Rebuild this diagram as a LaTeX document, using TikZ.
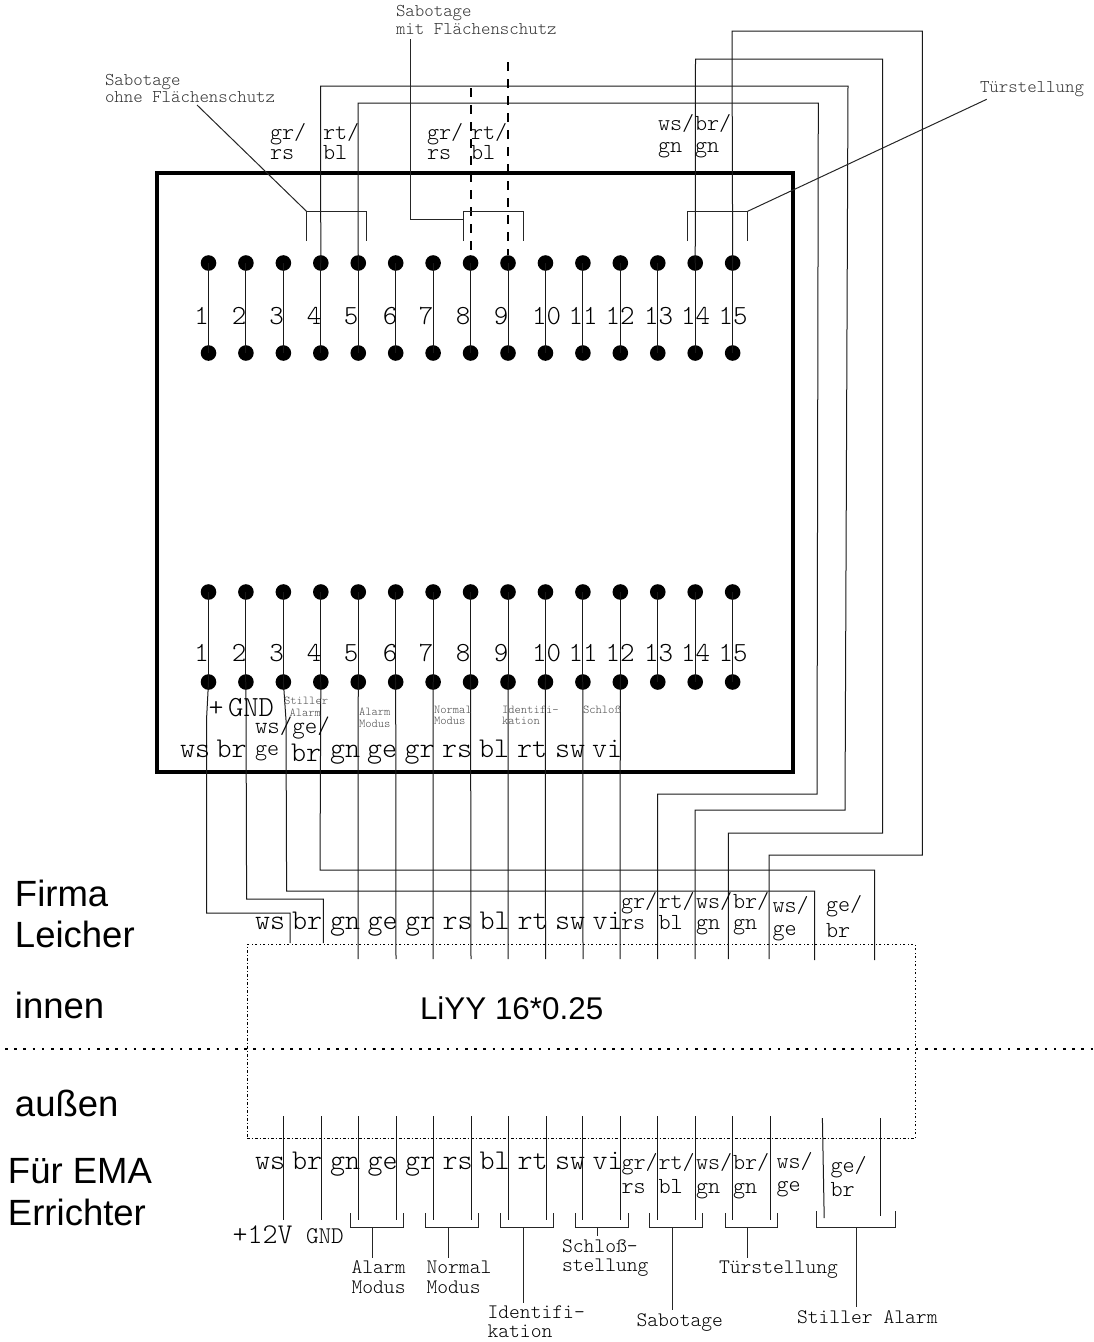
\documentclass[tikz,border=0pt]{standalone}
\usepackage{fontspec}
\setsansfont{Liberation Sans}
\setmonofont{Latin Modern Mono Light}
\begin{document}
\begin{tikzpicture}[x=1pt,y=-1pt,
  wire/.style={line width=1pt,black!90},
  thinwire/.style={line width=1pt,black!85},
  dot/.style={circle,fill=black,inner sep=0pt,minimum size=15.6pt},
  txt/.style={anchor=base west,inner sep=0pt,outer sep=0pt,black},
  txc/.style={anchor=base,inner sep=0pt,outer sep=0pt,black},
  fnum/.style={font=\fontsize{27.6}{28}\selectfont\ttfamily},
  frow/.style={font=\fontsize{28.6}{29}\selectfont\ttfamily},
  fmid/.style={font=\fontsize{23}{23}\selectfont\ttfamily},
  fsub/.style={font=\fontsize{20.6}{21}\selectfont\ttfamily},
  ftop/.style={font=\fontsize{18}{18}\selectfont\ttfamily,black!80},
  ftiny/.style={font=\fontsize{12}{12}\selectfont\ttfamily,black!70},
  fsans/.style={font=\fontsize{36.5}{37}\selectfont\sffamily},
  enclosurebox/.style={draw=black,line width=4.8pt,minimum width=636pt,minimum height=599pt,inner sep=0pt},
  cablebox/.style={draw=black,line width=0.8pt,dash pattern=on 2.5pt off 2pt on 1pt off 2.5pt,minimum width=668pt,minimum height=194pt,inner sep=0pt}]
\useasboundingbox (0,0) rectangle (1093,1342);

% enclosure and cable
\node[enclosurebox] (enclosure) at (475,472.5) {};
\node[cablebox] (cable) at (581,1041) {};
\coordinate (divL) at (5,1049);
\coordinate (divR) at (1093,1049);
\draw[line width=1.5pt,dash pattern=on 2.5pt off 6.7pt] (divL) -- (divR);

% terminals
\foreach \i in {1,...,15}{
  \pgfmathsetmacro{\xx}{208.5+37.44*(\i-1)}
  \node[dot] (t\i) at (\xx,263) {};
  \node[dot] (m\i) at (\xx,353) {};
  \node[dot] (b\i) at (\xx,592) {};
  \node[dot] (c\i) at (\xx,682) {};
  \draw[wire] (t\i.center) -- (m\i.center);
  \draw[wire] (b\i.center) -- (c\i.center);
}

% terminal numbers
\foreach \n/\x in {1/201.5,2/239,3/276.7,4/314,5/351,6/390,7/426,8/463,9/501,10/546.7,11/583,12/620,13/658.5,14/695.5,15/733}{
  \node[txc,fnum] (nt\n) at (\x,324) {\n};
  \node[txc,fnum] (nb\n) at (\x,661) {\n};
}

% wires from lower terminals to cable
\coordinate (e1) at (290,943);
\coordinate (e2) at (323.4,943);
\coordinate (e3) at (814.5,960);
\coordinate (e4) at (874.6,960);
\draw[wire] (c1.center) -- (206.5,720) -- (206.5,913) -- (290,913) -- (e1);
\draw[wire] (c2.center) -- (246.6,899) -- (323.4,899) -- (e2);
\draw[wire] (c3.center) -- (286,720) -- (286.6,891) -- (814.5,891) -- (e3);
\draw[wire] (c4.center) -- (320,870) -- (874.6,870) -- (e4);
\foreach \i/\x in {5/358,6/396,7/433,8/471,9/508,10/545.5,11/583,12/620}{
  \coordinate (e\i) at (\x,959);
  \draw[wire] (c\i.center) -- (e\i);
}

% wires from upper terminals round the enclosure
\coordinate (eA) at (657.6,959);
\coordinate (eB) at (695,959);
\coordinate (eC) at (728.4,959);
\coordinate (eD) at (769,959);
\draw[wire] (t4.center) -- (320.5,86) -- (848,86) -- (845,810) -- (695,810) -- (eB);
\draw[wire] (t5.center) -- (358,103) -- (818.3,103) -- (817,794) -- (657.6,794) -- (eA);
\draw[wire] (t14.center) -- (695.5,59) -- (882.7,59) -- (882.7,833) -- (728.4,833) -- (eC);
\draw[wire] (t15.center) -- (732,31) -- (922.3,31) -- (922.3,855) -- (769,855) -- (eD);

% dashed bridges
\coordinate (d8) at (470.7,88);
\coordinate (d9) at (508,62);
\draw[line width=2pt,dash pattern=on 9pt off 8pt] (d8) -- (t8.north -| d8);
\draw[line width=2pt,dash pattern=on 9pt off 8pt] (d9) -- (t9.north -| d9);

% upper brackets and leaders
\node[txt,ftop] (labA1) at (105,85) {Sabotage};
\node[txt,ftop] (labA2) at (105,102) {ohne Flächenschutz};
\node[txt,ftop] (labB1) at (396,16) {Sabotage};
\node[txt,ftop] (labB2) at (396,34) {mit Flächenschutz};
\node[txt,ftop] (labC) at (980,92) {Türstellung};
\draw[thinwire] (306.5,241) -- (306.5,211.3) coordinate (brA) -- (366.4,211.3) -- (366.4,241);
\draw[thinwire] (463.5,241) -- (463.5,211.3) -- (523.4,211.3) -- (523.4,241);
\draw[thinwire] (687.7,241) -- (687.7,211.3) -- (747.6,211.3) coordinate (brC) -- (747.6,241);
\coordinate (leadA) at (197,105);
\coordinate (leadB) at (410.8,39);
\coordinate (leadC) at (986.7,99.3);
\draw[thinwire] (leadA) -- (brA);
\draw[thinwire] (leadB) -- (410.8,219) -- (463.5,219);
\draw[thinwire] (brC) -- (leadC);

% colour labels above the terminals
\foreach \n/\x/\y/\t in {a/270/139/gr\slash,b/270/159/rs,c/323/139/rt\slash,d/323/159/bl,
  e/427/139/gr\slash,f/427/159/rs,g/471/139/rt\slash,h/471/159/bl,
  i/658/130/ws\slash,j/658/152/gn,k/695/130/br\slash,l/695/152/gn}{
  \node[txt,fmid] (tc\n) at (\x,\y) {\t};
}

% labels inside the enclosure, bottom
\foreach \n/\x/\y/\t in {1/180/757/ws,2/216.5/757/br,4/291/761/br,5/330/757/gn,6/367/757/ge,7/404.5/757/gr,8/442/757/rs,9/479/757/bl,10/517/757/rt,11/555/757/sw,12/592/757/vi}{
  \node[txt,frow] (ib\n) at (\x,\y) {\t};
}
\node[txt,fmid] (ibge) at (255,755) {ge};
\node[txt,font=\fontsize{23.8}{24}\selectfont\ttfamily] (ibcomb) at (255,733) {ws\slash ge\slash};
\node[txt,frow] (plus) at (208.5,716) {+};
\node[txt,font=\fontsize{29.2}{30}\selectfont\ttfamily] (ignd) at (228,716) {GND};
\node[txt,ftiny] (s1) at (284,704) {Stiller};
\node[txt,ftiny] (s2) at (289.5,716) {Alarm};
\node[txt,ftiny] (s3) at (359,715) {Alarm};
\node[txt,ftiny] (s4) at (359,727) {Modus};
\node[txt,ftiny] (s5) at (434,713) {Normal};
\node[txt,ftiny] (s6) at (434,724) {Modus};
\node[txt,ftiny] (s7) at (502,713) {Identifi-};
\node[txt,ftiny] (s8) at (502,724) {kation};
\node[txt,ftiny] (s9) at (583,713) {Schloß};

% labels above the cable
\foreach \n/\x/\t in {1/255/ws,2/292/br,3/330/gn,4/367.5/ge,5/405/gr,6/442.5/rs,7/479.5/bl,8/517.5/rt,9/555/sw,10/592.5/vi}{
  \node[txt,frow] (up\n) at (\x,929) {\t};
  \node[txt,frow] (dn\n) at (\x,1169) {\t};
}
\foreach \n/\x/\y/\t in {a/621/908/gr\slash,b/621/929/rs,c/658.5/908/rt\slash,d/658.5/929/bl,e/696/908/ws\slash,f/696/929/gn,g/733/908/br\slash,h/733/929/gn,i/772.5/912/ws\slash,j/772.5/935/ge,k/826/911/ge\slash,l/826/937/br}{
  \node[txt,fmid] (uc\n) at (\x,\y) {\t};
}
% labels below the cable
\foreach \n/\x/\y/\t in {a/621.5/1169/gr\slash,b/621.5/1193/rs,c/658.5/1169/rt\slash,d/658.5/1193/bl,e/696/1169/ws\slash,f/696/1193/gn,g/733/1169/br\slash,h/733/1193/gn,i/776.5/1168/ws\slash,j/776.5/1191/ge,k/830.5/1172/ge\slash,l/830.5/1196/br}{
  \node[txt,fmid] (dc\n) at (\x,\y) {\t};
}

% outside wires
\foreach \n/\x in {1/283.4,2/321,3/358.7,4/396,5/433.5,6/471,7/508,8/546,9/582.7,10/620,11/657.6,12/695,13/732.4,14/770}{
  \coordinate (oa\n) at (\x,1116);
  \coordinate (ob\n) at (\x,1220);
  \draw[wire] (oa\n) -- (ob\n);
}
\coordinate (oa15) at (822.4,1118);
\coordinate (ob15) at (824.2,1218);
\coordinate (oa16) at (880,1118);
\coordinate (ob16) at (880,1216);
\draw[wire] (oa15) -- (ob15);
\draw[wire] (oa16) -- (ob16);

% lower brackets and their texts
\node[txt,frow] (v12) at (232.5,1243) {+12V};
\node[txt,font=\fontsize{24}{24}\selectfont\ttfamily] (gnd) at (306,1243) {GND};
\node[txt,fsub] (la1) at (351.5,1273) {Alarm};
\node[txt,fsub] (la2) at (351.5,1293) {Modus};
\node[txt,fsub] (lb1) at (426.5,1273) {Normal};
\node[txt,fsub] (lb2) at (426.5,1293) {Modus};
\node[txt,fsub] (lc1) at (487.5,1318) {Identifi-};
\node[txt,fsub] (lc2) at (487.5,1337) {kation};
\node[txt,fsub] (ld1) at (562,1252) {Schloß-};
\node[txt,fsub] (ld2) at (562,1271) {stellung};
\node[txt,fsub] (le) at (636.5,1326) {Sabotage};
\node[txt,fsub] (lf) at (719,1273) {Türstellung};
\node[txt,fsub] (lg) at (797,1323) {Stiller Alarm};
\foreach \n/\xa/\xb/\xc/\ye in {a/350.9/403.7/372.9/1257.7,b/425.2/478/448.6/1257.7,c/500.5/553.3/523.5/1302.7,d/575.8/628.2/597.9/1235.7,e/649.8/702/672.7/1310,f/725/777/747.5/1257.7}{
  \coordinate (tip\n) at (\xc,\ye);
  \draw[thinwire] (\xa,1213) -- (\xa,1227.7) -- (\xb,1227.7) -- (\xb,1213);
  \draw[thinwire] (\xc,1227.7) -- (tip\n);
}
\coordinate (tipg) at (856.8,1306.7);
\draw[thinwire] (816,1211) -- (816,1227) -- (895.4,1227) -- (895.4,1211);
\draw[thinwire] (856.8,1227) -- (tipg);

% sans captions
\node[txt,fsans,black] (s-firma) at (15,906) {Firma};
\node[txt,fsans,black] (s-leicher) at (15,947) {Leicher};
\node[txt,fsans,black] (s-innen) at (15,1018) {innen};
\node[txt,fsans,black] (s-aussen) at (15,1116) {außen};
\node[txt,fsans,black] (s-fuer) at (8,1183) {Für EMA};
\node[txt,fsans,black] (s-err) at (8,1225) {Errichter};
\node[txt,black,font=\fontsize{31.4}{32}\selectfont\sffamily] (s-liyy) at (420,1019) {LiYY 16*0.25};
\end{tikzpicture}
\end{document}
